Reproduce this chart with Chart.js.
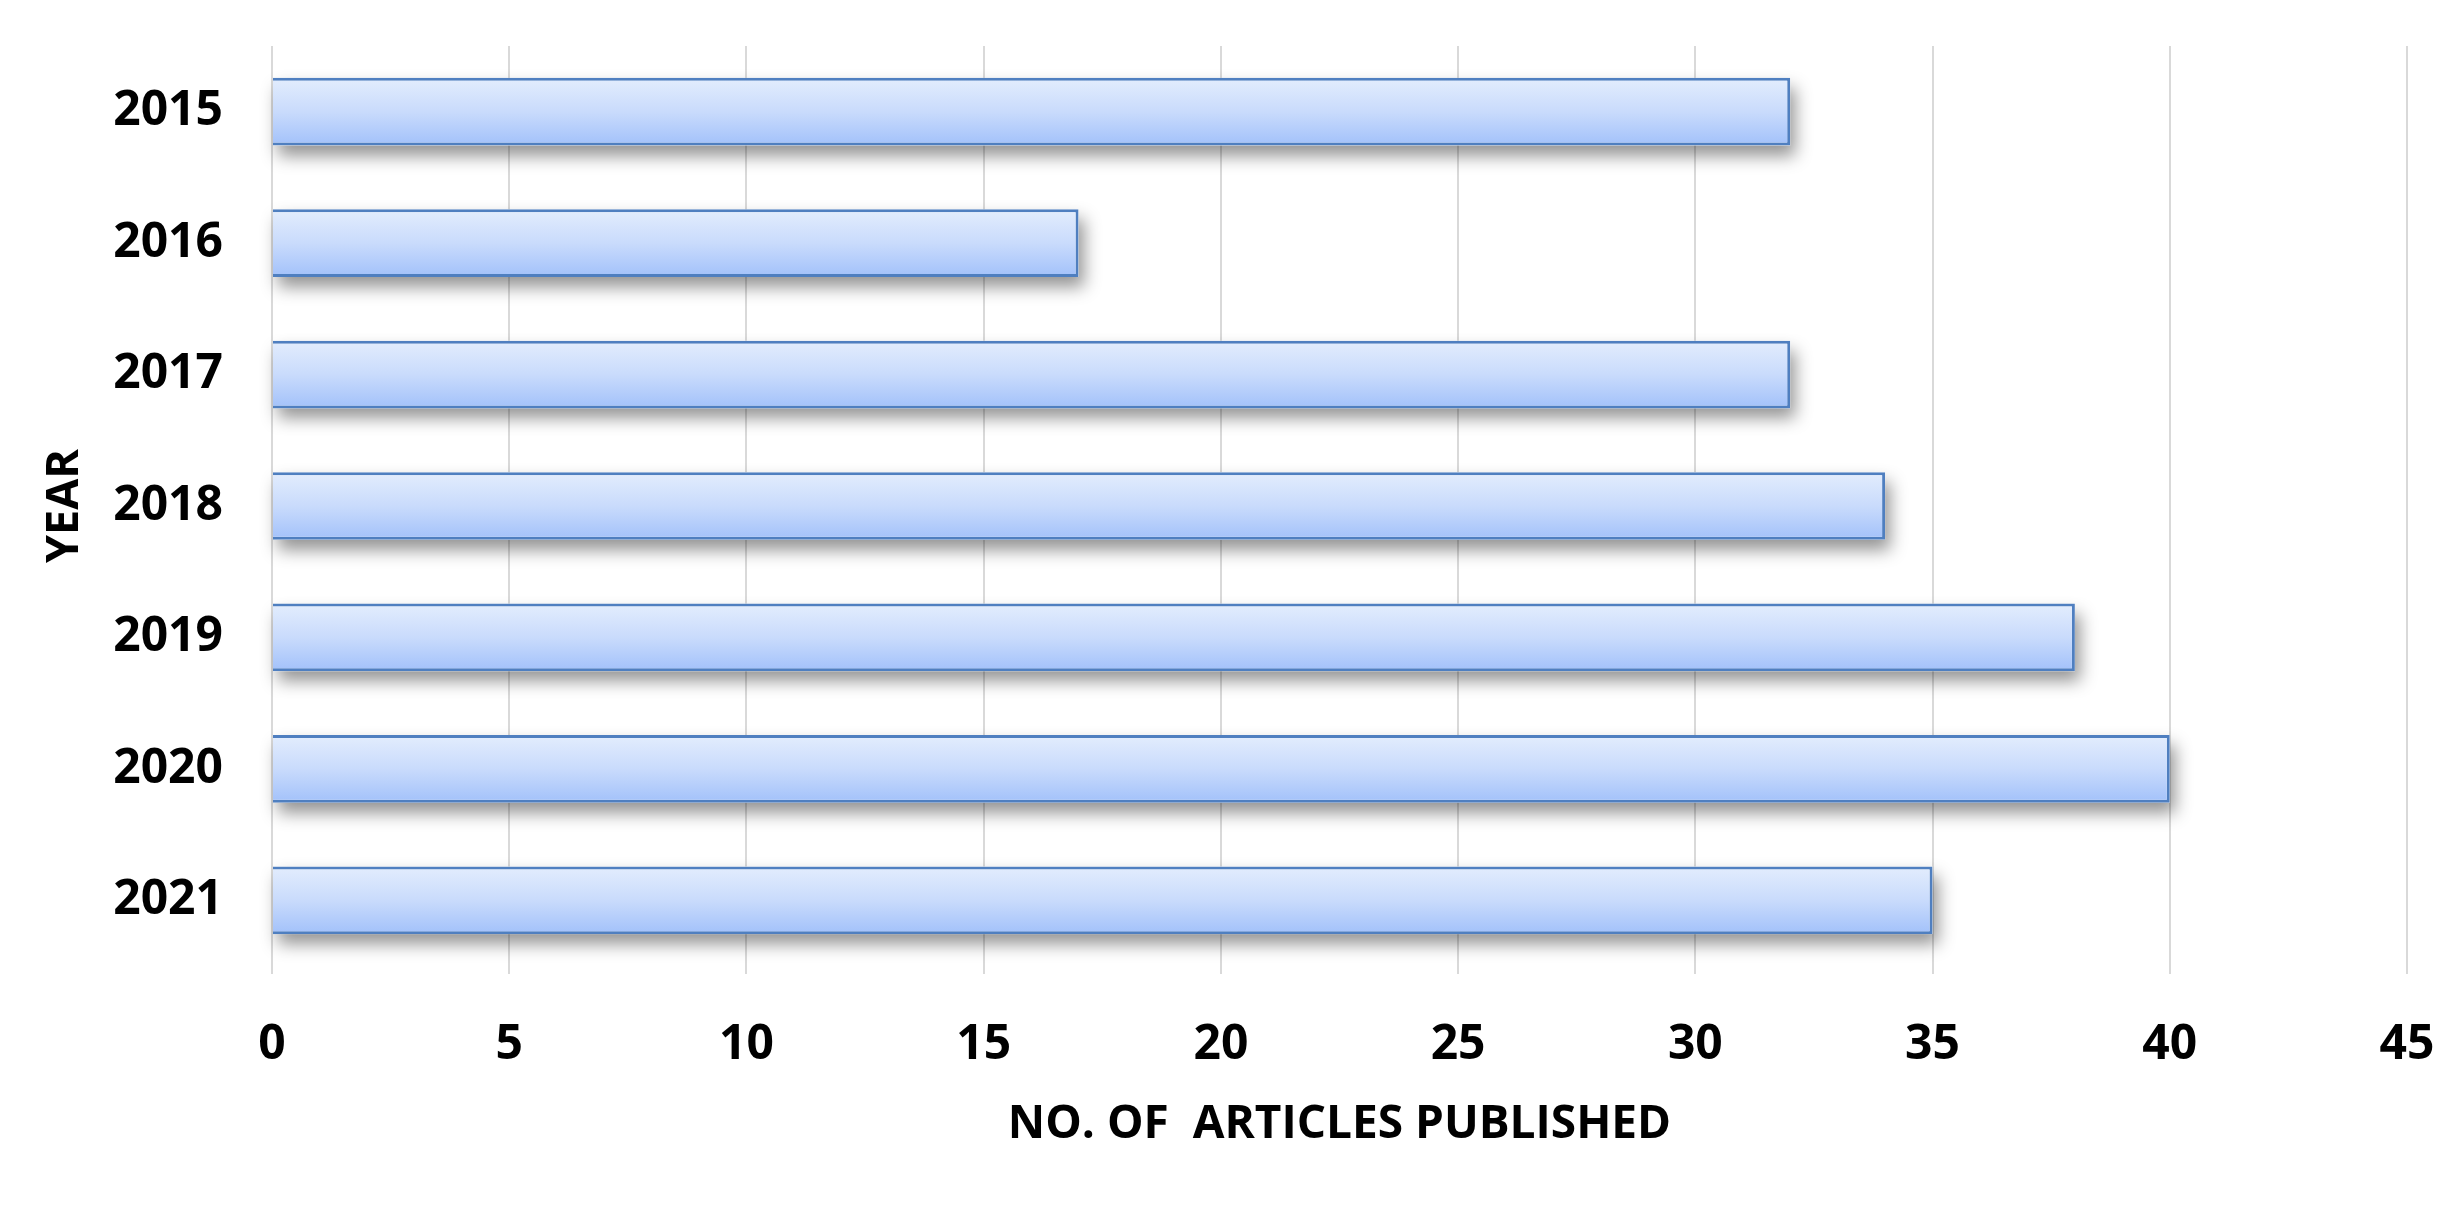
<!DOCTYPE html>
<html>
<head>
<meta charset="utf-8">
<script src="https://cdn.jsdelivr.net/npm/chart.js@4"></script>
<style>
  html, body { margin: 0; padding: 0; background: #ffffff; }
  #wrap { width: 2463px; height: 1215px; }
</style>
</head>
<body>
<div id="wrap"><canvas id="chart" width="2463" height="1215"></canvas></div>
<script>
'use strict';

let years = ['2015', '2016', '2017', '2018', '2019', '2020', '2021'];
let articles = [32, 17, 32, 34, 38, 40, 35];
let xTicks = [0, 5, 10, 15, 20, 25, 30, 35, 40, 45];

let canvasElem = document.getElementById('chart');
let fontName = "'Open Sans', 'Noto Sans', sans-serif";

// gradient for each bar, light at the top, darker blue at the bottom
function barGradient(context) {
  let chart = context.chart;
  let yScale = chart.scales.y;
  if (!yScale || !chart.chartArea) {
    return '#c4d8fc';
  }
  let center = yScale.getPixelForValue(context.dataIndex);
  let half = yScale.getPixelForValue(1) - yScale.getPixelForValue(0);
  half = Math.abs(half) * 0.515 / 2;
  let grad = chart.ctx.createLinearGradient(0, center - half, 0, center + half);
  grad.addColorStop(0, '#e3edfd');
  grad.addColorStop(0.5, '#c9dbfc');
  grad.addColorStop(1, '#a2c1fa');
  return grad;
}

// soft shadow under the bars (the bar element clips its own drawing,
// so the shadow is cast from a plain rect at each bar's position first)
let shadowPlugin = {
  id: 'barShadow',
  beforeDatasetsDraw(chart) {
    let ctx = chart.ctx;
    let meta = chart.getDatasetMeta(0);
    ctx.save();
    ctx.shadowColor = 'rgba(0, 0, 0, 0.42)';
    ctx.shadowBlur = 16;
    ctx.shadowOffsetX = 5;
    ctx.shadowOffsetY = 10;
    ctx.fillStyle = '#ffffff';
    meta.data.forEach(bar => {
      let p = bar.getProps(['x', 'y', 'base', 'height'], true);
      let left = Math.min(p.x, p.base);
      let w = Math.abs(p.x - p.base);
      ctx.fillRect(left, p.y - p.height / 2, w, p.height);
    });
    ctx.restore();
  }
};

let chartObj = {
  type: 'bar',
  data: {
    labels: years,
    datasets: [{
      label: 'Articles',
      data: articles,
      backgroundColor: barGradient,
      borderColor: '#4f7fc0',
      borderWidth: 3,
      barPercentage: 1,
      categoryPercentage: 0.515
    }]
  },
  options: {
    indexAxis: 'y',
    responsive: false,
    animation: false,
    layout: {
      padding: { left: 0, right: 56, top: 46, bottom: 0 }
    },
    plugins: {
      legend: { display: false },
      tooltip: { enabled: false }
    },
    scales: {
      x: {
        min: 0,
        max: 45,
        afterBuildTicks: (scale) => {
          scale.ticks = xTicks.map(v => ({ value: v }));
        },
        afterFit: (scale) => {
          scale.height = 1215 - 966;
          scale.paddingLeft = 0;
          scale.paddingRight = 0;
        },
        grid: {
          color: '#d9d9d9',
          lineWidth: 2,
          drawTicks: true,
          tickLength: 8
        },
        border: { display: false },
        ticks: {
          color: '#000000',
          padding: 43,
          font: { family: fontName, size: 48, weight: 'bold' }
        },
        title: {
          display: true,
          text: 'NO. OF  ARTICLES PUBLISHED',
          color: '#000000',
          padding: { top: 0, bottom: 63 },
          font: { family: fontName, size: 46, weight: 'bold' }
        }
      },
      y: {
        afterFit: (scale) => {
          scale.width = 272;
          scale.paddingTop = 0;
          scale.paddingBottom = 0;
        },
        grid: { display: false, drawTicks: false },
        border: { display: false },
        ticks: {
          color: '#000000',
          padding: 49,
          font: { family: fontName, size: 48, weight: 'bold' }
        },
        title: {
          display: true,
          text: 'YEAR',
          color: '#000000',
          padding: { top: 38, bottom: 0 },
          font: { family: fontName, size: 45, weight: 'bold' }
        }
      }
    }
  },
  plugins: [shadowPlugin]
};

new Chart(canvasElem, chartObj);
</script>
</body>
</html>
